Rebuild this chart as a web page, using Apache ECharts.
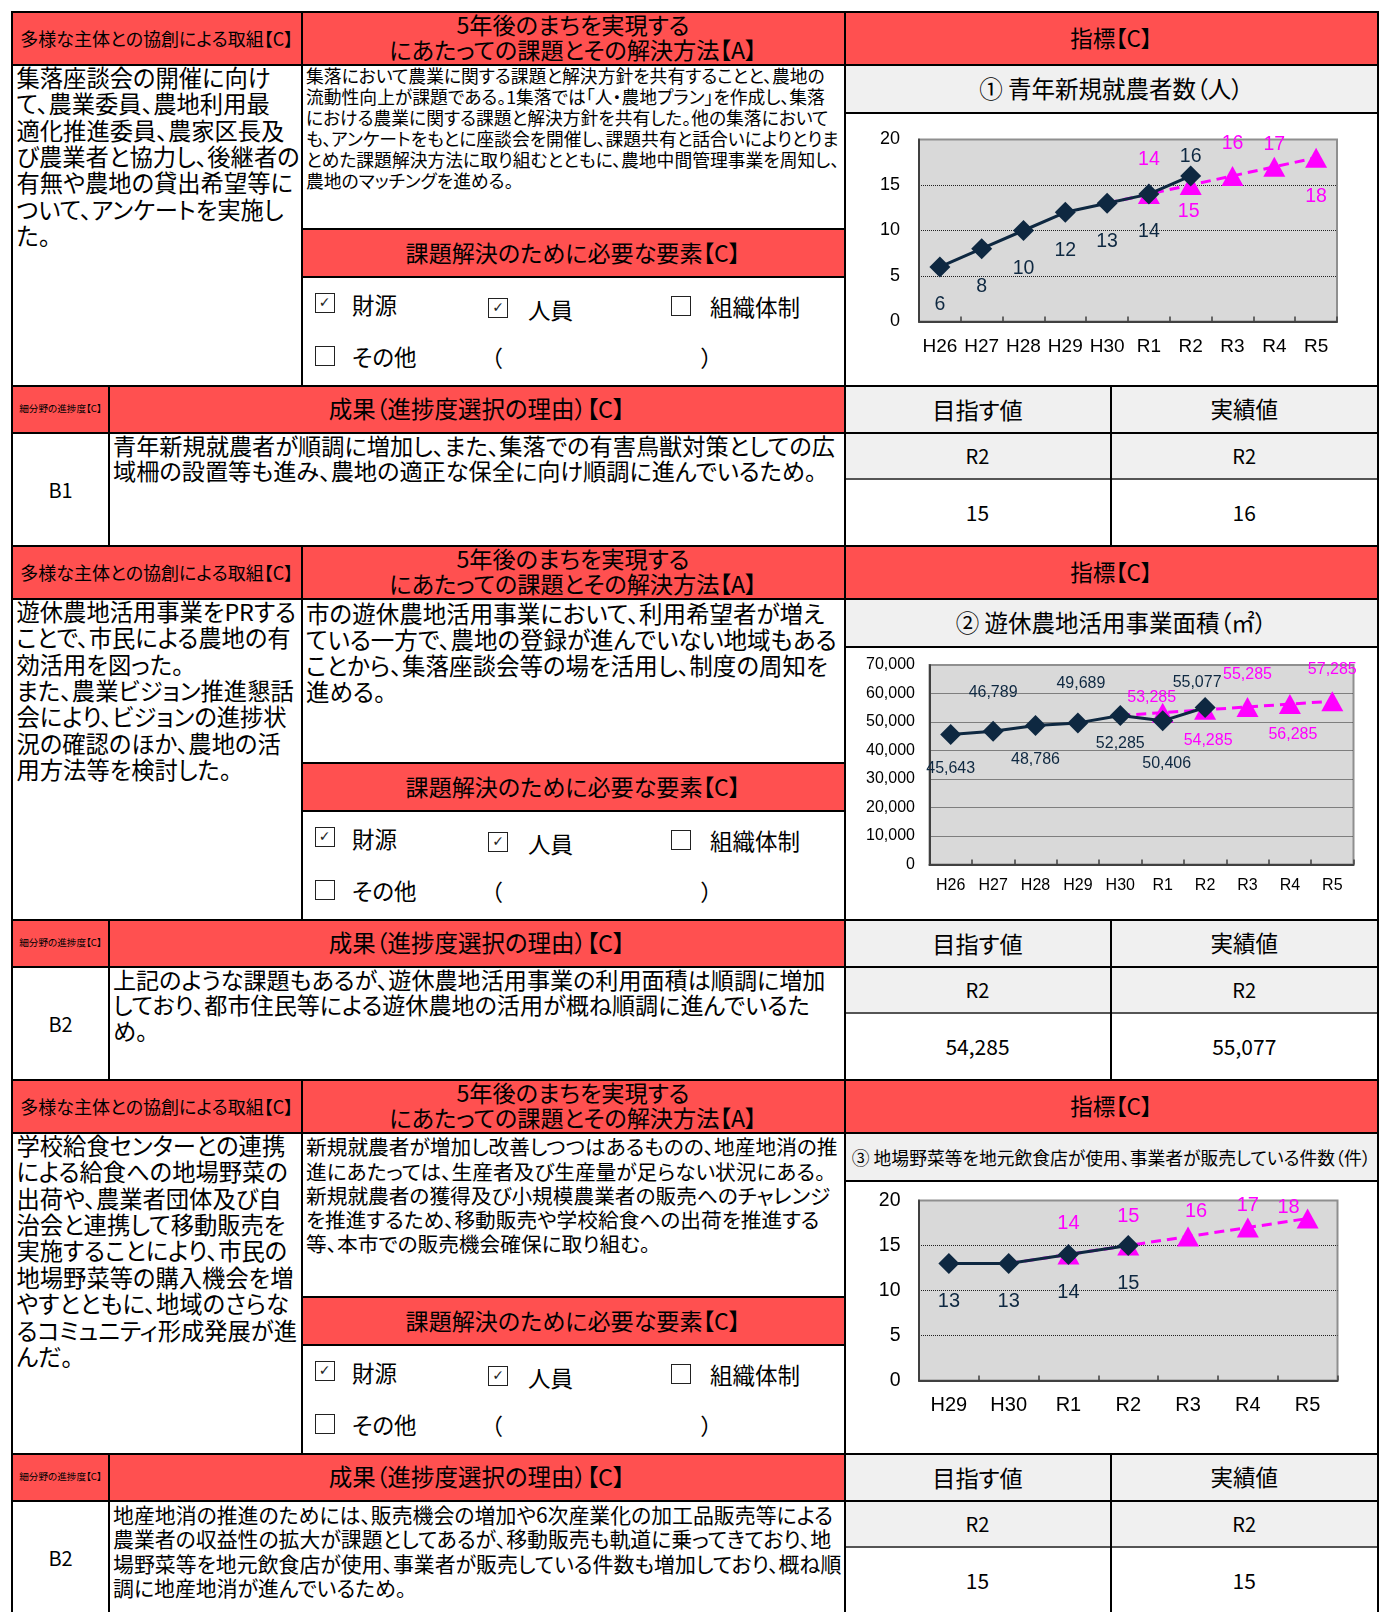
<!DOCTYPE html>
<html>
<head>
<meta charset="utf-8">
<script src="https://cdn.jsdelivr.net/npm/echarts@6/dist/echarts.min.js"></script>
<style>
  body { margin: 0; background: #fff; font-family: "Noto Sans CJK JP", sans-serif; color: #000; }
  #page { position: relative; width: 1385px; height: 1612px; overflow: hidden; }
  .f, .ln, .chart { position: absolute; }
  .t { position: absolute; white-space: nowrap; font-feature-settings: "palt"; }
  .c { position: absolute; display: flex; align-items: center; justify-content: center; box-sizing: border-box;
       text-align: center; white-space: nowrap; font-feature-settings: "palt"; line-height: 1.15; }
  .chk { position: absolute; box-sizing: border-box; border: 1.5px solid #222; background: #fff;
         font-family: "DejaVu Sans"; font-size: 14px; line-height: 17px; text-align: center; color: #222; }
</style>
</head>
<body>
<div id="page"></div>
<script>
// 指標①：青年新規就農者数（人）
const years1 = ['H26', 'H27', 'H28', 'H29', 'H30', 'R1', 'R2', 'R3', 'R4', 'R5'];
const actual1 = [6, 8, 10, 12, 13, 14, 16, null, null, null];
const target1 = [null, null, null, null, 13, 14, 15, 16, 17, 18];

// 指標②：遊休農地活用事業面積（㎡）
const years2 = ['H26', 'H27', 'H28', 'H29', 'H30', 'R1', 'R2', 'R3', 'R4', 'R5'];
const actual2 = [45643, 46789, 48786, 49689, 52285, 50406, 55077, null, null, null];
const target2 = [null, null, null, null, 52285, 53285, 54285, 55285, 56285, 57285];

// 指標③：地場野菜等を地元飲食店が使用、事業者が販売している件数（件）
const years3 = ['H29', 'H30', 'R1', 'R2', 'R3', 'R4', 'R5'];
const actual3 = [13, 13, 14, 15, null, null, null];
const target3 = [null, 13, 14, 15, 16, 17, 18];

// ラベル位置（点の中心からのずれ）
const aOff1 = [[0, 38], [0, 38], [0, 38], [0, 38], [0, 38], [0, 38], [0, -19]];
const tOff1 = [null, null, null, null, null, [0, -34], [-2, 27], [0, -32], [0, -22], [0, 39]];
const aOff2 = [[0, 34], [0, -39], [0, 34], [3, -39], [0, 28], [4, 43], [-8, -25]];
const tOff2 = [null, null, null, null, null, [-11, -15], [3, 31], [0, -32], [3, 31], [0, -32]];
const aOff3 = [[0, 38], [0, 38], [0, 38], [0, 38]];
const tOff3 = [null, null, [0, -31], [0, -29], [8, -25], [0, -22], [-19, -11]];

const L = 12, C1 = 301.5, C2 = 844.5, SP = 1110.5, R = 1378, SUB = 109;
const RED = '#ff5050', GRAY = '#f0f0f0';
const page = document.getElementById('page');

function add(cls, x, y, w, h, css, html) {
  const d = document.createElement('div');
  d.className = cls;
  d.style.cssText = `left:${x}px;top:${y}px;` + (w != null ? `width:${w}px;` : '') +
    (h != null ? `height:${h}px;` : '') + (css || '');
  if (html !== undefined) d.innerHTML = html;
  page.appendChild(d);
  return d;
}
const fill = (x1, y1, x2, y2, c) => add('f', x1, y1, x2 - x1, y2 - y1, `background:${c};`);
const center = (x1, y1, x2, y2, html, fs, css) =>
  add('c', x1, y1, x2 - x1, y2 - y1, `font-size:${fs}px;` + (css || ''), html);
const para = (x, yc, lines, fs, lh) =>
  add('t', x, yc - lh / 2, null, null, `font-size:${fs}px;line-height:${lh}px;`, lines.join('<br>'));
const text = (x, yc, s, fs) => add('t', x, yc - fs * 0.75, null, null, `font-size:${fs}px;line-height:${fs * 1.5}px;`, s);
const hl = (x1, x2, y, w = 2, c = '#000') => add('ln', x1 - w / 2, y - w / 2, x2 - x1 + w, w, `background:${c};`);
const vl = (x, y1, y2, w = 2, c = '#000') => add('ln', x - w / 2, y1 - w / 2, w, y2 - y1 + w, `background:${c};`);

const blocks = [
  {
    top: 11.5,
    left: ['集落座談会の開催に向け', 'て、農業委員、農地利用最', '適化推進委員、農家区長及',
      'び農業者と協力し、後継者の', '有無や農地の貸出希望等に', 'ついて、アンケートを実施し', 'た。'],
    mid: ['集落において農業に関する課題と解決方針を共有することと、農地の',
      '流動性向上が課題である。1集落では「人・農地プラン」を作成し、集落',
      'における農業に関する課題と解決方針を共有した。他の集落において',
      'も、アンケートをもとに座談会を開催し、課題共有と話合いによりとりま',
      'とめた課題解決方法に取り組むとともに、農地中間管理事業を周知し、',
      '農地のマッチングを進める。'],
    midFs: 17.8, midLh: 21.1, midY: 64,
    title: '① 青年新規就農者数（人）', titleFs: 23.5,
    grade: 'B1',
    result: ['青年新規就農者が順調に増加し、また、集落での有害鳥獣対策としての広',
      '域柵の設置等も進み、農地の適正な保全に向け順調に進んでいるため。'],
    resFs: 23.2, resLh: 25.5, resY: 434,
    goal: '15', real: '16'
  },
  {
    top: 545.5,
    left: ['遊休農地活用事業をPRする', 'ことで、市民による農地の有', '効活用を図った。',
      'また、農業ビジョン推進懇話', '会により、ビジョンの進捗状', '況の確認のほか、農地の活',
      '用方法等を検討した。'],
    mid: ['市の遊休農地活用事業において、利用希望者が増え', 'ている一方で、農地の登録が進んでいない地域もある',
      'ことから、集落座談会等の場を活用し、制度の周知を', '進める。'],
    midFs: 23.5, midLh: 26.2, midY: 67.3,
    title: '② 遊休農地活用事業面積（㎡）', titleFs: 23.5,
    grade: 'B2',
    result: ['上記のような課題もあるが、遊休農地活用事業の利用面積は順調に増加',
      'しており、都市住民等による遊休農地の活用が概ね順調に進んでいるた', 'め。'],
    resFs: 23.1, resLh: 25.5, resY: 434,
    goal: '54,285', real: '55,077'
  },
  {
    top: 1079.5,
    left: ['学校給食センターとの連携', 'による給食への地場野菜の', '出荷や、農業者団体及び自',
      '治会と連携して移動販売を', '実施することにより、市民の', '地場野菜等の購入機会を増',
      'やすとともに、地域のさらな', 'るコミュニティ形成発展が進', 'んだ。'],
    mid: ['新規就農者が増加し改善しつつはあるものの、地産地消の推', '進にあたっては、生産者及び生産量が足らない状況にある。',
      '新規就農者の獲得及び小規模農業者の販売へのチャレンジ', 'を推進するため、移動販売や学校給食への出荷を推進する',
      '等、本市での販売機会確保に取り組む。'],
    midFs: 20.7, midLh: 24.2, midY: 67,
    title: '③ 地場野菜等を地元飲食店が使用、事業者が販売している件数（件）', titleFs: 17.8,
    grade: 'B2',
    result: ['地産地消の推進のためには、販売機会の増加や6次産業化の加工品販売等による',
      '農業者の収益性の拡大が課題としてあるが、移動販売も軌道に乗ってきており、地',
      '場野菜等を地元飲食店が使用、事業者が販売している件数も増加しており、概ね順',
      '調に地産地消が進んでいるため。'],
    resFs: 20.9, resLh: 24.4, resY: 434.5,
    goal: '15', real: '15'
  }
];

const checks = [
  { x: 314.5, y: 291.5, on: true, label: '財源', lx: 352, ly: 293.5 },
  { x: 488, y: 296.5, on: true, label: '人員', lx: 528, ly: 298.5 },
  { x: 671, y: 294, on: false, label: '組織体制', lx: 710, ly: 295.5 },
  { x: 314.5, y: 344.5, on: false, label: 'その他', lx: 352, ly: 345 }
];

blocks.forEach((b) => {
  const y = b.top;
  // 背景
  fill(L, y, R, y + 53.5, RED);
  fill(C1, y + 217.5, C2, y + 265, RED);
  fill(L, y + 374, C2, y + 421, RED);
  fill(C2, y + 53.5, R, y + 101.5, GRAY);
  fill(C2, y + 374, R, y + 467.5, GRAY);

  // 見出し
  center(L, y, C1, y + 53.5, '多様な主体との協創による取組【C】', 18);
  center(C1, y, C2, y + 53.5, '5年後のまちを実現する<br>にあたっての課題とその解決方法【A】', 23.2,
    'line-height:24.7px;padding-bottom:3px;');
  center(C2, y, R, y + 53.5, '指標【C】', 22.5);
  center(C1, y + 217.5, C2, y + 265, '課題解決のために必要な要素【C】', 23.1);
  center(L, y + 374, SUB, y + 421, '細分野の進捗度【C】', 9.6);
  center(SUB, y + 374, C2, y + 421, '成果（進捗度選択の理由）【C】', 23.5);
  center(C2, y + 53.5, R, y + 101.5, b.title, b.titleFs);
  center(C2, y + 374, SP, y + 421, '目指す値', 23.2);
  center(SP, y + 374, R, y + 421, '実績値', 22.5);
  center(C2, y + 421, SP, y + 467.5, 'R2', 20);
  center(SP, y + 421, R, y + 467.5, 'R2', 20);
  center(C2, y + 467.5, SP, y + 534, b.goal, 21);
  center(SP, y + 467.5, R, y + 534, b.real, 21);
  center(L, y + 421, SUB, y + 534, b.grade, 20);

  // 本文
  para(16.5, y + 65.4, b.left, 23.3, 26.4);
  para(306, y + b.midY, b.mid, b.midFs, b.midLh);
  para(113, y + b.resY, b.result, b.resFs, b.resLh);

  // チェック欄
  checks.forEach((c) => {
    add('chk', c.x, y + c.y - 10, 20, 20, '', c.on ? '✓' : '');
    text(c.lx, y + c.ly, c.label, 22.5);
  });
  text(491, y + 346.5, '（', 22.5);
  text(701, y + 346.5, '）', 22.5);

  // 罫線
  [0, 53.5, 374, 421, 534].forEach((dy) => hl(L, R, y + dy));
  hl(C2, R, y + 101.5);
  hl(C1, C2, y + 217.5);
  hl(C1, C2, y + 265);
  hl(C2, R, y + 467.5, 1.5, '#555');
  vl(L, y, y + 534);
  vl(R, y, y + 534);
  vl(C1, y, y + 374);
  vl(C2, y, y + 534);
  vl(SP, y + 374, y + 534);
  vl(SUB, y + 374, y + 534);
});

function drawChart(top, grid, cats, actual, target, aOff, tOff, ax) {
  const div = add('chart', 845, top + 102, 532, 271);
  const chart = echarts.init(div);
  const fmt = (v) => ax.comma ? Number(v).toLocaleString('en-US') : String(v);
  const start = target.findIndex((v) => v !== null);
  const lbl = { show: true, position: 'inside', fontSize: ax.labelFs, fontFamily: 'Liberation Sans',
    formatter: (p) => fmt(p.value) };
  const actualData = actual.map((v, i) => (v === null ? '-' : { value: v, label: { offset: aOff[i] } }));
  const targetData = target.map((v, i) => {
    if (v === null) return '-';
    if (i === start) return { value: v, symbol: 'none', label: { show: false } };
    return { value: v, label: { offset: tOff[i] } };
  });
  chart.setOption({
    animation: false,
    grid: Object.assign({ show: true, backgroundColor: '#d9d9d9', borderColor: '#8f8f8f', borderWidth: 2,
      outerBoundsMode: 'none' }, grid),
    xAxis: {
      type: 'category', data: cats, boundaryGap: true,
      axisLine: { lineStyle: { color: '#404040', width: 2 } },
      axisTick: { show: true, inside: true, length: 5, lineStyle: { color: '#404040', width: 1.5 } },
      axisLabel: { color: '#000', fontSize: ax.xFs, fontFamily: 'Liberation Sans', margin: ax.xMargin, interval: 0 },
      splitLine: { show: false }
    },
    yAxis: {
      type: 'value', min: 0, max: ax.max, interval: ax.step,
      axisLine: { show: true, lineStyle: { color: '#404040', width: 2 } },
      axisTick: { show: false },
      axisLabel: { color: '#000', fontSize: ax.yFs, fontFamily: 'Liberation Sans', margin: ax.yMargin,
        formatter: (v) => fmt(v) },
      splitLine: { show: true, showMinLine: false, showMaxLine: false,
        lineStyle: { color: '#222', type: 'dotted', width: 1 } }
    },
    series: [
      {
        name: '目標', type: 'line', data: targetData, z: 2,
        symbol: 'triangle', symbolSize: [22, 20],
        itemStyle: { color: '#ff00ff' },
        lineStyle: { color: '#ff00ff', width: 3, type: [10, 6] },
        label: Object.assign({ color: '#ff00ff' }, lbl)
      },
      {
        name: '実績', type: 'line', data: actualData, z: 3,
        symbol: 'diamond', symbolSize: [21, 21],
        itemStyle: { color: '#0e2841' },
        lineStyle: { color: '#0e2841', width: 3 },
        label: Object.assign({ color: '#0e2841' }, lbl)
      }
    ]
  });
}

drawChart(blocks[0].top, { left: 74, right: 40, top: 25.5, bottom: 63.5 }, years1, actual1, target1, aOff1, tOff1,
  { max: 20, step: 5, xFs: 19, yFs: 18, labelFs: 19.5, xMargin: 16, yMargin: 19 });
drawChart(blocks[1].top, { left: 84.5, right: 23.5, top: 17, bottom: 54.5 }, years2, actual2, target2, aOff2, tOff2,
  { max: 70000, step: 10000, comma: true, xFs: 16, yFs: 16, labelFs: 16, xMargin: 13, yMargin: 14.5 });
drawChart(blocks[2].top, { left: 74, right: 39.5, top: 18.5, bottom: 72.5 }, years3, actual3, target3, aOff3, tOff3,
  { max: 20, step: 5, xFs: 20, yFs: 19.5, labelFs: 20, xMargin: 15, yMargin: 18.5 });
</script>
</body>
</html>
